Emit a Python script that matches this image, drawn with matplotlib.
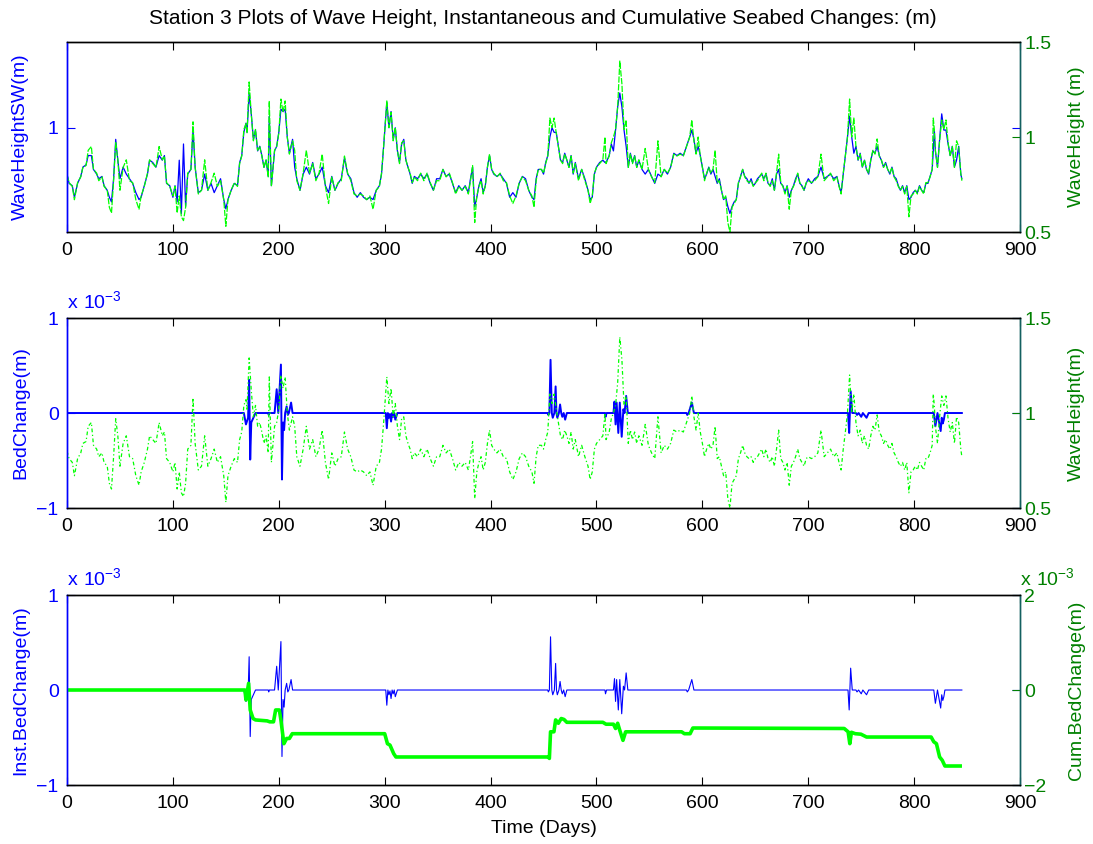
import matplotlib
matplotlib.use('Agg')
import matplotlib.pyplot as plt

plt.rcParams['font.family'] = ['Liberation Sans', 'DejaVu Sans']
plt.rcParams['mathtext.fontset'] = 'custom'
plt.rcParams['mathtext.rm'] = 'Liberation Sans'

# wave height series (days, SWAN model on left axis, measured on right axis)
days = [0, 2, 5, 7, 10, 13, 15, 18, 20, 23,
        25, 28, 30, 33, 35, 38, 40, 42, 44, 46,
        48, 50, 53, 56, 59, 62, 65, 68, 70, 73,
        76, 78, 81, 84, 87, 90, 92, 94, 97, 100,
        102, 104, 106, 108, 110, 112, 114, 117, 119, 121,
        124, 127, 130, 133, 136, 139, 142, 145, 148, 150,
        152, 155, 158, 161, 163, 165, 167, 169, 170, 172,
        174, 176, 178, 180, 182, 184, 186, 188, 190, 191,
        193, 196, 198, 200, 202, 204, 206, 208, 210, 213,
        215, 217, 220, 223, 226, 229, 232, 235, 238, 241,
        244, 247, 250, 253, 256, 259, 262, 265, 268, 271,
        274, 277, 280, 283, 286, 289, 292, 295, 297, 299,
        302, 304, 306, 308, 310, 312, 314, 316, 318, 320,
        322, 324, 326, 328, 331, 334, 337, 340, 343, 346,
        349, 352, 355, 358, 361, 364, 367, 370, 373, 376,
        379, 381, 383, 385, 387, 389, 391, 393, 395, 397,
        399, 401, 403, 406, 409, 412, 415, 418, 421, 424,
        427, 430, 433, 436, 439, 441, 443, 445, 448, 450,
        452, 454, 456, 458, 460, 462, 464, 466, 468, 470,
        472, 474, 476, 478, 480, 483, 486, 489, 492, 494,
        496, 498, 500, 503, 506, 508, 509, 512, 514, 516,
        518, 520, 522, 524, 526, 528, 530, 532, 534, 536,
        538, 540, 543, 546, 549, 552, 555, 558, 561, 564,
        567, 570, 573, 576, 579, 582, 585, 588, 590, 592,
        594, 596, 598, 600, 602, 604, 606, 608, 610, 612,
        614, 616, 618, 620, 622, 624, 626, 628, 630, 632,
        634, 636, 638, 640, 642, 644, 646, 648, 650, 652,
        654, 656, 658, 660, 662, 664, 666, 668, 670, 672,
        674, 676, 678, 680, 682, 684, 686, 688, 690, 692,
        694, 696, 698, 700, 703, 706, 709, 712, 715, 718,
        721, 724, 727, 729, 731, 733, 735, 737, 739, 741,
        743, 745, 747, 749, 751, 753, 755, 757, 759, 761,
        763, 765, 767, 769, 771, 773, 775, 777, 779, 781,
        783, 785, 787, 789, 791, 793, 795, 797, 799, 801,
        803, 805, 807, 809, 811, 813, 815, 817, 818, 819,
        820, 822, 824, 826, 828, 830, 832, 834, 836, 838,
        840, 842, 844, 845]

hs_swan = [.80, .76, .75, .70, .76, .79, .83, .84, .88, .88,
           .82, .80, .78, .79, .75, .73, .70, .68, .78, .95,
           .86, .78, .83, .80, .78, .76, .72, .69, .70, .75,
           .80, .86, .85, .83, .88, .86, .88, .76, .75, .70,
           .75, .68, .86, .63, .93, .66, .80, .82, .99, .83,
           .72, .73, .80, .73, .76, .72, .75, .78, .69, .65,
           .69, .73, .76, .75, .85, .88, .98, 1.02, .98, 1.15,
           1.06, .95, .99, .90, .92, .88, .83, .86, .79, 1.05,
           .75, .90, .92, .98, 1.08, 1.07, 1.08, .96, .89, .95,
           .83, .78, .73, .80, .83, .80, .85, .78, .80, .83,
           .75, .72, .79, .73, .76, .78, .87, .80, .78, .72,
           .70, .72, .70, .69, .70, .69, .73, .75, .80, .92,
           1.11, 1.00, 1.07, .95, 1.00, .90, .85, .93, .95, .86,
           .83, .80, .76, .79, .78, .80, .78, .80, .76, .73,
           .78, .78, .82, .79, .80, .76, .72, .75, .73, .75,
           .72, .78, .83, .66, .70, .75, .78, .72, .75, .83,
           .88, .82, .80, .79, .80, .78, .76, .70, .72, .70,
           .76, .79, .78, .73, .70, .69, .78, .82, .82, .80,
           .85, .88, .96, 1.00, .98, .98, .92, .86, .85, .89,
           .86, .83, .88, .80, .85, .78, .82, .78, .73, .69,
           .70, .80, .83, .85, .86, .85, .85, .88, .93, .90,
           .99, 1.09, 1.15, 1.09, .99, .92, .83, .89, .85, .88,
           .83, .86, .82, .80, .82, .79, .76, .80, .79, .82,
           .80, .83, .89, .88, .89, .88, .92, .96, .99, .95,
           .89, .92, .88, .83, .78, .80, .83, .80, .82, .79,
           .76, .78, .73, .69, .70, .66, .63, .66, .68, .69,
           .76, .79, .82, .79, .78, .76, .78, .75, .76, .78,
           .79, .80, .78, .80, .76, .75, .78, .73, .80, .82,
           .76, .75, .72, .75, .70, .73, .75, .78, .80, .76,
           .75, .73, .76, .78, .76, .78, .79, .83, .78, .79,
           .80, .78, .79, .75, .72, .80, .88, .96, 1.05, .96,
           .89, .92, .86, .89, .83, .86, .82, .80, .86, .90,
           .89, .92, .88, .86, .83, .85, .82, .80, .83, .79,
           .78, .75, .73, .75, .72, .75, .69, .70, .72, .73,
           .72, .75, .73, .72, .76, .76, .79, .82, .90, .99,
           .90, .83, .95, 1.06, .99, .99, .93, .88, .92, .83,
           .86, .92, .80, .78]

hs_meas = [.80, .76, .74, .67, .76, .79, .84, .85, .93, .95,
           .83, .81, .77, .79, .74, .72, .63, .60, .77, .97,
           .88, .72, .84, .88, .77, .76, .67, .62, .69, .74,
           .81, .88, .86, .84, .95, .88, .90, .76, .74, .69,
           .74, .60, .69, .58, .56, .63, .81, .83, 1.08, .84,
           .70, .72, .88, .72, .76, .81, .74, .77, .67, .53,
           .67, .72, .76, .74, .86, .90, 1.04, 1.07, 1.02, 1.29,
           1.12, .98, 1.04, .93, .95, .90, .84, .88, .79, 1.19,
           .74, .93, .95, 1.02, 1.20, 1.13, 1.19, 1.00, .91, .98,
           .93, .77, .72, .81, .93, .81, .86, .77, .81, .91,
           .74, .65, .79, .72, .76, .77, .90, .81, .77, .70,
           .69, .70, .69, .67, .69, .62, .72, .74, .81, .95,
           1.19, 1.05, 1.13, .98, 1.05, .93, .86, .97, .98, .88,
           .84, .81, .76, .79, .77, .81, .77, .81, .76, .72,
           .77, .77, .83, .79, .81, .76, .70, .74, .72, .74,
           .70, .77, .85, .55, .69, .74, .77, .70, .74, .84,
           .91, .83, .81, .79, .81, .77, .76, .69, .65, .69,
           .76, .79, .77, .72, .69, .63, .77, .83, .83, .81,
           .86, .90, 1.10, 1.05, 1.10, 1.02, .95, .88, .86, .91,
           .88, .84, .90, .81, .86, .77, .83, .77, .72, .65,
           .69, .81, .84, .86, .88, 1.00, .86, .90, .97, 1.00,
           1.04, 1.16, 1.40, 1.28, 1.04, 1.09, .84, .91, .86, .90,
           .84, .88, .83, .94, .83, .79, .76, .98, .79, .83,
           .81, .84, .91, .90, .91, .90, .95, 1.00, 1.09, .98,
           .91, 1.00, .90, .84, .77, .81, .84, .81, .83, .93,
           .76, .77, .72, .67, .69, .55, .50, .63, .65, .67,
           .76, .79, .83, .79, .77, .76, .77, .74, .76, .77,
           .79, .81, .77, .81, .76, .74, .77, .72, .81, .91,
           .76, .74, .70, .74, .62, .72, .74, .77, .81, .76,
           .74, .72, .76, .77, .76, .77, .79, .91, .77, .79,
           .81, .77, .79, .74, .70, .81, .90, 1.00, 1.20, 1.00,
           1.10, .95, .88, .91, .84, .88, .83, .81, .88, .93,
           .91, .99, .90, .88, .84, .86, .83, .81, .84, .79,
           .77, .74, .72, .74, .70, .74, .58, .69, .70, .72,
           .70, .74, .72, .70, .76, .76, .79, .83, 1.10, 1.04,
           .93, .84, .98, 1.09, 1.04, 1.09, .97, .90, .95, .84,
           .98, .95, .81, .77]

# instantaneous bed change (x 1e-3 m)
bed_days = [0, 167, 169, 171, 172, 173, 174, 176, 178, 190,
            190.5, 191, 196, 198, 199.5, 202, 203, 204, 205, 206,
            207.4, 208.5, 209.5, 211.6, 213, 301, 302, 303, 304, 305,
            306, 307, 308, 309, 310, 312, 454, 454.5, 455.5, 456.6,
            457.8, 458.7, 460.2, 461.4, 462.2, 463, 464.5, 465.6, 466.7, 467.7,
            469, 470.4, 472, 508, 508.5, 509.5, 516, 517, 518, 519,
            520.6, 522, 523.8, 525.4, 526.5, 528, 529.6, 585, 585.7, 587,
            590, 592, 737.5, 738.6, 740, 741.5, 745, 746, 747.5, 750,
            751.5, 755, 757, 818.5, 820, 822, 825, 826, 827, 828,
            829, 845]
bed_inst = [0, 0, -.12, -.05, .35, -.49, -.10, -.05, 0, 0,
            -.02, 0, 0, .25, 0, .51, -.70, -.10, -.18, 0,
            .07, -.02, 0, .11, 0, 0, -.16, 0, -.05, -.01,
            -.09, 0, -.04, 0, -.07, 0, 0, -.02, 0, .56,
            0, -.05, 0, .28, 0, -.05, 0, .09, 0, -.04,
            0, -.07, 0, 0, -.04, 0, 0, .12, -.12, .11,
            -.21, .11, -.25, .04, 0, .18, 0, 0, -.02, 0,
            .11, 0, 0, -.21, .23, 0, 0, -.02, 0, -.04,
            0, -.05, 0, 0, -.14, 0, -.19, -.05, -.11, -.07,
            0, 0]

# cumulative bed change (x 1e-3 m)
cum_days = [0, 168, 169, 171.5, 173, 175.7, 178, 189, 191.5, 195,
            197, 200.5, 202, 204.8, 207.4, 210, 212.7, 300, 302.6, 305,
            308.5, 310.6, 454.5, 455.5, 456.6, 459.8, 461.4, 464, 466.7, 469.3,
            472, 506, 509, 516, 518, 520, 522, 525, 527.5, 580.4,
            583, 588.4, 591, 733.9, 737.6, 739.2, 740.7, 744.4, 749.7, 755,
            816, 818.5, 821, 824, 826.5, 829, 843.4]
bed_cum = [0, 0, -.21, .14, -.42, -.60, -.63, -.65, -.67, -.67,
           -.42, -.42, -.63, -1.13, -1.02, -1.02, -.92, -.92, -1.13, -1.16,
           -1.34, -1.41, -1.41, -1.44, -.88, -.88, -.63, -.70, -.60, -.62,
           -.68, -.68, -.72, -.72, -.81, -.70, -.85, -1.06, -.88, -.88,
           -.92, -.92, -.80, -.81, -.88, -1.13, -.89, -.92, -.93, -.99,
           -.99, -1.09, -1.13, -1.41, -1.48, -1.60, -1.60]

bed_inst = [v * 1e-3 for v in bed_inst]
bed_cum = [v * 1e-3 for v in bed_cum]

BLUE = (0, 0, 1)
GREEN = (0, 1, 0)
DKGREEN = (0, 0.5, 0)
RSPINE = '#146060'
FS = 14

fig = plt.figure(figsize=(10.93, 8.44), dpi=100)
rects = [[0.0613, 0.7251, 0.872, 0.2251],
         [0.0613, 0.3981, 0.872, 0.2251],
         [0.0613, 0.0699, 0.872, 0.2251]]


def style(ax, ax2):
    ax.set_xlim(0, 900)
    ax.set_xticks(range(0, 1000, 100))
    ax.tick_params(axis='x', direction='in', length=6, top=True,
                   labelsize=FS, pad=7, color='black')
    ax.tick_params(axis='y', direction='in', length=6, right=True,
                   labelsize=FS, colors=BLUE, pad=6)
    ax2.tick_params(axis='y', direction='in', length=6,
                    labelsize=FS, colors=DKGREEN, pad=3)
    for a in (ax, ax2):
        a.spines['top'].set_color('black')
        a.spines['bottom'].set_color('black')
        a.spines['left'].set_color(BLUE)
        a.spines['right'].set_color(RSPINE)
        for s in a.spines.values():
            s.set_linewidth(1.0)
    ax.yaxis.set_label_coords(-0.040, 0.5)
    ax2.yaxis.set_label_coords(1.050, 0.5)


# top panel
ax = fig.add_axes(rects[0])
ax2 = ax.twinx()
ax.plot(days, hs_swan, color=BLUE, lw=0.9)
ax2.plot(days, hs_meas, color=GREEN, lw=0.9, dashes=(5, 1.2))
ax.set_ylim(0.55, 1.37)
ax.set_yticks([1])
ax.set_yticklabels(['1'])
ax2.set_ylim(0.5, 1.5)
ax2.set_yticks([0.5, 1, 1.5])
ax2.set_yticklabels(['0.5', '1', '1.5'])
ax.set_ylabel('WaveHeightSW(m)', color=BLUE, fontsize=FS)
ax2.set_ylabel('WaveHeight (m)', color=DKGREEN, fontsize=FS)
style(ax, ax2)

# middle panel
ax = fig.add_axes(rects[1])
ax2 = ax.twinx()
ax.plot(bed_days, bed_inst, color=BLUE, lw=1.4)
ax2.plot(days, hs_meas, color=GREEN, lw=0.9, dashes=(3, 2, 1, 2))
ax.set_ylim(-1e-3, 1e-3)
ax.set_yticks([-1e-3, 0, 1e-3])
ax.set_yticklabels(['\u22121', '0', '1'])
ax2.set_ylim(0.5, 1.5)
ax2.set_yticks([0.5, 1, 1.5])
ax2.set_yticklabels(['0.5', '1', '1.5'])
ax.set_ylabel('BedChange(m)', color=BLUE, fontsize=FS)
ax2.set_ylabel('WaveHeight(m)', color=DKGREEN, fontsize=FS)
ax.text(0.0, 1.03, r'$\mathregular{x\ 10^{-3}}$', transform=ax.transAxes,
        color=BLUE, fontsize=FS, ha='left', va='bottom')
style(ax, ax2)

# bottom panel
ax = fig.add_axes(rects[2])
ax2 = ax.twinx()
ax.plot(bed_days, bed_inst, color=BLUE, lw=0.8)
ax2.plot(cum_days, bed_cum, color=GREEN, lw=2.6)
ax.set_ylim(-1e-3, 1e-3)
ax.set_yticks([-1e-3, 0, 1e-3])
ax.set_yticklabels(['\u22121', '0', '1'])
ax2.set_ylim(-2e-3, 2e-3)
ax2.set_yticks([-2e-3, 0, 2e-3])
ax2.set_yticklabels(['\u22122', '0', '2'])
ax.set_ylabel('Inst.BedChange(m)', color=BLUE, fontsize=FS)
ax2.set_ylabel('Cum.BedChange(m)', color=DKGREEN, fontsize=FS)
ax.set_xlabel('Time (Days)', fontsize=FS, labelpad=6)
ax.text(0.0, 1.03, r'$\mathregular{x\ 10^{-3}}$', transform=ax.transAxes,
        color=BLUE, fontsize=FS, ha='left', va='bottom')
ax2.text(1.0, 1.03, r'$\mathregular{x\ 10^{-3}}$', transform=ax2.transAxes,
         color=DKGREEN, fontsize=FS, ha='left', va='bottom')
style(ax, ax2)

fig.text(543 / 1093, 1 - 18 / 844,
         'Station 3 Plots of Wave Height, Instantaneous and Cumulative Seabed Changes: (m)',
         ha='center', va='center', fontsize=15)

fig.savefig('out.png', dpi=100)
